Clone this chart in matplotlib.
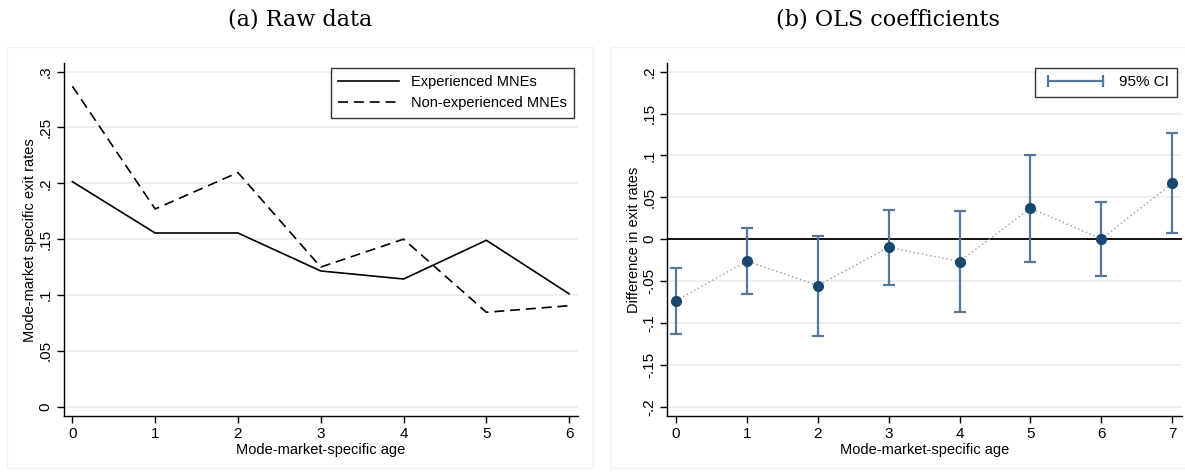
import matplotlib
matplotlib.use("Agg")
import matplotlib.pyplot as plt
from matplotlib.patches import Rectangle
from matplotlib.lines import Line2D

# Panel (a): raw exit rates by mode-market-specific age
age_a = [0, 1, 2, 3, 4, 5, 6]
experienced = [0.2015, 0.1555, 0.1555, 0.1215, 0.1143, 0.149, 0.101]
non_experienced = [0.287, 0.177, 0.2096, 0.125, 0.150, 0.0845, 0.0904]
yticks_a = [0, 0.05, 0.1, 0.15, 0.2, 0.25, 0.3]
ylabels_a = ["0", ".05", ".1", ".15", ".2", ".25", ".3"]

# Panel (b): OLS coefficients with 95% CI
age_b = [0, 1, 2, 3, 4, 5, 6, 7]
coef = [-0.0736, -0.0259, -0.0553, -0.0096, -0.0267, 0.037, 0.0004, 0.0669]
ci_low = [-0.113, -0.0653, -0.115, -0.0541, -0.0864, -0.0267, -0.0434, 0.0076]
ci_high = [-0.0342, 0.0139, 0.0044, 0.0354, 0.0334, 0.101, 0.045, 0.1266]
yticks_b = [-0.2, -0.15, -0.1, -0.05, 0, 0.05, 0.1, 0.15, 0.2]
ylabels_b = ["-.2", "-.15", "-.1", "-.05", "0", ".05", ".1", ".15", ".2"]

plt.rcParams['font.family'] = ['Liberation Sans', 'DejaVu Sans']

W, H = 1185, 473
fig = plt.figure(figsize=(W / 100, H / 100), dpi=100)

def px_axes(x0, x1, ytop, ybot):
    return fig.add_axes([x0 / W, 1 - ybot / H, (x1 - x0) / W, (ybot - ytop) / H])

navy = "#1a476f"
ci_col = "#55779a"
grid_col = "#e8eff1"

# faint panel frames
for x0, x1 in [(7, 593), (610, 1190)]:
    fig.patches.append(Rectangle((x0 / W, 1 - 468 / H), (x1 - x0) / W, (468 - 47) / H,
                                 transform=fig.transFigure, fill=False,
                                 edgecolor="#f0f3f4", lw=1))

def style(ax):
    for s in ["top", "right"]:
        ax.spines[s].set_visible(False)
    ax.spines["left"].set_linewidth(1.0)
    ax.spines["bottom"].set_linewidth(1.0)
    ax.tick_params(length=5, width=1, labelsize=11, pad=3)
    ax.tick_params(axis='y', labelrotation=90)
    for t in ax.get_yticklabels():
        t.set_va("center")
    ax.grid(axis='y', color=grid_col, lw=1.2)
    ax.set_axisbelow(True)

# ---- panel (a)
ax1 = px_axes(63.5, 578, 63.3, 416)
ax1.plot(age_a, experienced, color="black", lw=1.2, label="Experienced MNEs")
ax1.plot(age_a, non_experienced, color="black", lw=1.2, dashes=(6, 3.5),
         label="Non-experienced MNEs")
ax1.set_xlim(-0.107, 6.107)
ax1.set_ylim(-0.0084, 0.3075)
ax1.set_xticks(age_a)
ax1.set_yticks(yticks_a)
ax1.set_yticklabels(ylabels_a)
style(ax1)
ax1.set_xlabel("Mode-market-specific age", fontsize=10.5, labelpad=1)
ax1.set_ylabel("Mode-market specific exit rates", fontsize=10.5, labelpad=1)
leg1 = ax1.legend(loc="upper right", bbox_to_anchor=(574 / W, 1 - 67.7 / H),
                  bbox_transform=fig.transFigure, borderaxespad=0,
                  fancybox=False, edgecolor="black", fontsize=10.5,
                  handlelength=4.2, borderpad=0.5, labelspacing=0.5)
leg1.get_frame().set_linewidth(1.0)
fig.text(300, H - 19, "(a) Raw data", transform=None, ha="center", va="center",
         fontsize=16, family=["DejaVu Serif"])

# ---- panel (b)
ax2 = px_axes(667.4, 1182, 63.3, 416)
ax2.axhline(0, color="black", lw=1.3, zorder=1)
ax2.plot(age_b, coef, color="#9a9a9a", lw=1, ls=(0, (1, 2)), zorder=2)
ax2.errorbar(age_b, coef,
             yerr=[[c - l for c, l in zip(coef, ci_low)],
                   [h - c for c, h in zip(coef, ci_high)]],
             fmt="none", ecolor=ci_col, elinewidth=1.6, capsize=4, capthick=1.6,
             zorder=3)
ax2.plot(age_b, coef, "o", color=navy, ms=7, zorder=4)
ax2.set_xlim(-0.121, 7.137)
ax2.set_ylim(-0.211, 0.21)
ax2.set_xticks(age_b)
ax2.set_yticks(yticks_b)
ax2.set_yticklabels(ylabels_b)
style(ax2)
ax2.set_xlabel("Mode-market-specific age", fontsize=10.5, labelpad=1)
ax2.set_ylabel("Difference in exit rates", fontsize=10.5, labelpad=1)
ci_handle = Line2D([], [], color=ci_col, lw=1.6, marker="|", markersize=8,
                   markeredgewidth=1.6)
leg2 = ax2.legend([ci_handle], ["95% CI"], loc="upper right",
                  bbox_to_anchor=(1177 / W, 1 - 67.7 / H),
                  bbox_transform=fig.transFigure, borderaxespad=0,
                  fancybox=False, edgecolor="black", fontsize=11,
                  handlelength=4.2, borderpad=0.5, numpoints=2)
leg2.get_frame().set_linewidth(1.0)
fig.text(888, H - 19, "(b) OLS coefficients", transform=None, ha="center",
         va="center", fontsize=16, family=["DejaVu Serif"])

fig.savefig("out.png", dpi=100, facecolor="white")
